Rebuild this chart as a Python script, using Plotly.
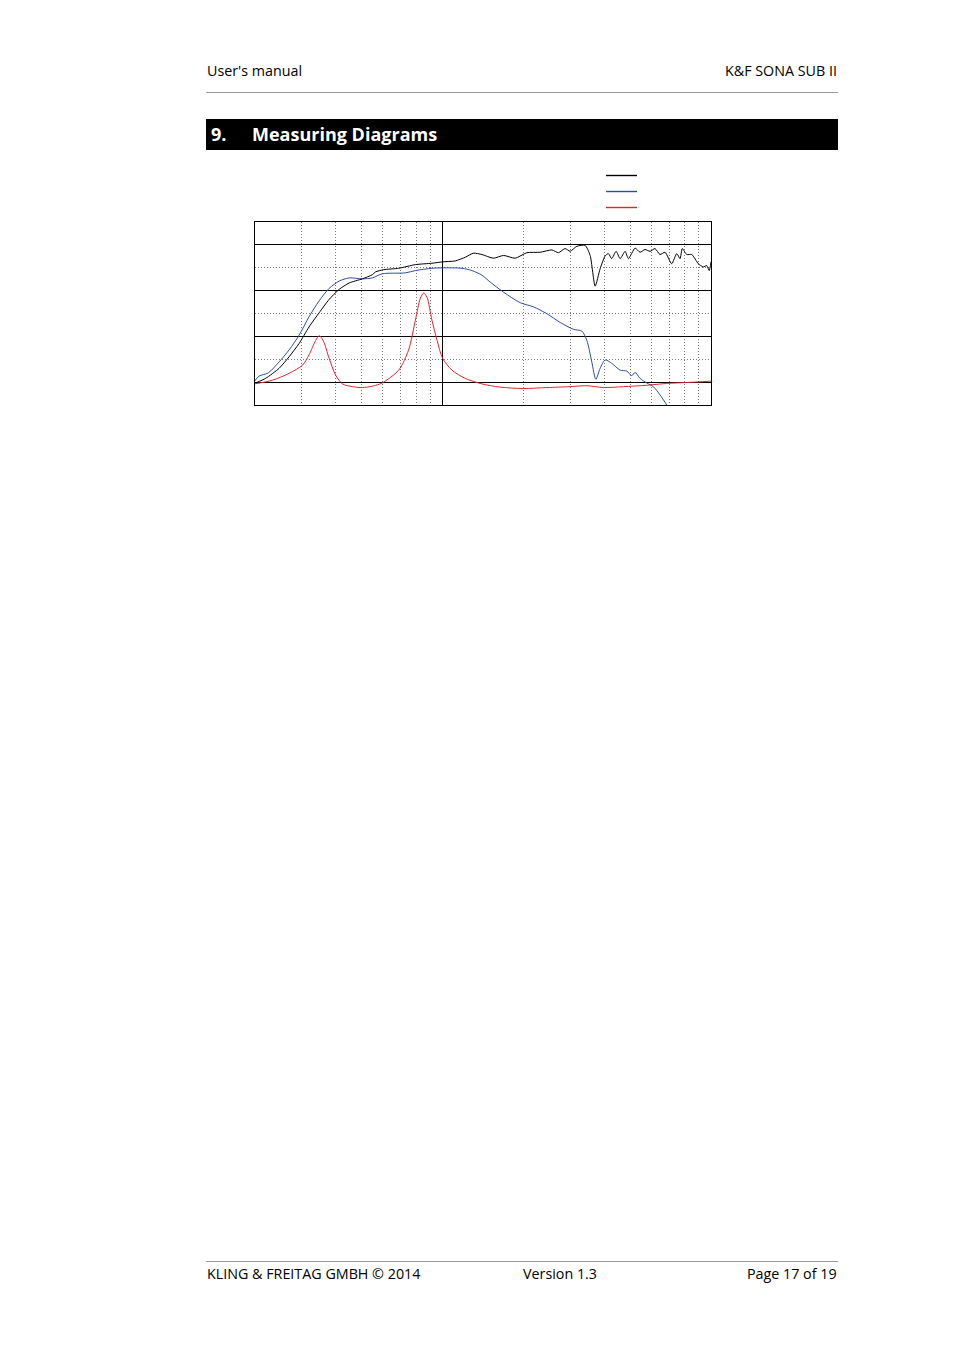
import plotly.graph_objects as go

# measured curves, frequency in Hz and level in dB
freq_black = [20.2, 22.0, 24.7, 26.9, 29.3, 31.9, 34.8, 37.9, 41.3, 45.0, 50.4, 54.9, 56.4, 60.5,
              68.8, 79.4, 91.5, 100, 111.7, 121.7, 130.7, 140.4, 155, 169, 186.8, 206.4, 231.3,
              255.8, 270.6, 286.5, 299, 316.7, 340, 355, 370.5, 386.7, 403.6, 415, 427, 443.5,
              459, 479, 492.7, 521.8, 544.5, 568, 593, 619, 646, 674.5, 714, 745.6, 767, 782,
              812, 848, 897, 936, 964, 985, 1000]
spl_black = [64.8, 65.8, 68.0, 70.5, 73.4, 77.0, 80.1, 83.0, 85.2, 86.6, 87.5, 88.4, 89.0, 89.5,
             89.8, 90.6, 90.9, 91.2, 91.4, 92.2, 93.1, 92.8, 92.0, 92.6, 92.0, 93.2, 93.3,
             93.8, 93.2, 94.1, 93.5, 94.6, 94.8, 92.6, 85.9, 89.7, 92.5, 93.0, 91.9, 93.5,
             91.9, 93.5, 91.9, 94.2, 93.3, 93.9, 93.5, 94.1, 92.8, 93.3, 90.8, 93.0, 91.9, 94.1,
             92.8, 92.8, 90.8, 90.1, 90.4, 89.3, 91.2]

freq_blue = [20, 20.8, 22.5, 24.7, 26.9, 29.3, 31.9, 34.8, 37.9, 41.3, 45.0, 50.4, 54.9, 59.7,
             72.8, 79.4, 91.5, 100, 118.3, 128.9, 140.4, 150.7, 169, 195, 218.4, 245, 274.6,
             307.7, 330.6, 345, 360, 372.8, 386.7, 403.6, 427, 459, 486, 507, 522, 544.5,
             577, 610, 646, 684, 700]
spl_blue = [65.2, 66.3, 67.0, 69.4, 72.0, 75.2, 79.2, 82.7, 85.4, 87.0, 87.7, 87.5, 87.7, 88.6,
            88.8, 89.3, 89.8, 89.9, 89.8, 89.3, 88.3, 86.8, 84.6, 82.3, 81.4, 79.9, 78.0,
            76.5, 76.1, 74.1, 69.4, 65.6, 68.0, 69.8, 69.1, 67.6, 67.4, 66.4, 67.1, 65.8,
            64.8, 64.0, 62.2, 60.0, 58.9]

freq_red = [20, 23.3, 26.9, 30.2, 31.9, 33.8, 34.8, 36.0, 37.9, 40.1, 42.5, 46.3, 50.4, 54.9,
            59.7, 68.8, 74.9, 79.4, 82.8, 85.2, 87.7, 91.5, 95.6, 100.2, 108.6, 121.7, 140.4,
            164, 200, 245, 299, 345, 398, 472, 577, 684, 812, 1000]
spl_red = [64.6, 65.4, 66.9, 68.7, 70.9, 74.1, 75.1, 74.1, 70.2, 66.5, 64.6, 64.0, 63.8, 64.1,
           64.8, 67.6, 72.0, 78.5, 83.2, 84.4, 83.5, 78.5, 74.1, 70.2, 67.6, 65.8, 64.6,
           63.9, 63.6, 63.8, 64.0, 64.2, 63.8, 64.0, 64.3, 64.7, 64.9, 65.2]

minor_x = [30, 40, 50, 60, 70, 80, 90, 200, 300, 400, 500, 600, 700, 800, 900]

# the page body has an 8px margin, so the figure is a bit smaller than the window
OFF = 8
W, H = 954 - OFF, 1350 - OFF


def px(x):
    return (x - OFF) / W


def py(y):
    return 1 - (y - OFF) / H


fig = go.Figure()
fig.add_trace(go.Scatter(x=freq_red, y=spl_red, mode='lines',
                         line=dict(color='#e8232b', width=1, shape='spline', smoothing=0.8)))
fig.add_trace(go.Scatter(x=freq_blue, y=spl_blue, mode='lines',
                         line=dict(color='#2b4ea3', width=1, shape='spline', smoothing=0.8)))
fig.add_trace(go.Scatter(x=freq_black, y=spl_black, mode='lines',
                         line=dict(color='black', width=1, shape='spline', smoothing=0.6)))

shapes = [
    dict(type='line', xref='paper', yref='paper', x0=px(206), x1=px(838), y0=py(92.5), y1=py(92.5),
         line=dict(color='#999999', width=1)),
    dict(type='rect', xref='paper', yref='paper', x0=px(206), x1=px(838), y0=py(150), y1=py(119),
         fillcolor='black', line=dict(width=0)),
    dict(type='line', xref='paper', yref='paper', x0=px(206), x1=px(838), y0=py(1261.5), y1=py(1261.5),
         line=dict(color='#999999', width=1)),
]
for yy, col in [(175.5, 'black'), (191.5, '#2b4ea3'), (207.5, '#e8232b')]:
    shapes.append(dict(type='line', xref='paper', yref='paper', x0=px(606), x1=px(637),
                       y0=py(yy), y1=py(yy), line=dict(color=col, width=1.4)))

font = 'Open Sans, DejaVu Sans, sans-serif'
annotations = [
    dict(text="User's manual", x=px(205), y=py(70), xanchor='left'),
    dict(text="K&F SONA SUB II", x=px(839), y=py(70), xanchor='right'),
    dict(text="KLING & FREITAG GMBH © 2014", x=px(205), y=py(1273), xanchor='left'),
    dict(text="Version 1.3", x=px(521), y=py(1273), xanchor='left'),
    dict(text="Page 17 of 19", x=px(839), y=py(1273), xanchor='right'),
    dict(text="<b>9.</b>", x=px(209), y=py(134), xanchor='left',
         font=dict(color='white', size=18, family=font)),
    dict(text="<b>Measuring Diagrams</b>", x=px(250), y=py(134), xanchor='left',
         font=dict(color='white', size=18, family=font)),
]
for a in annotations:
    a.update(xref='paper', yref='paper', yanchor='middle', showarrow=False)
    a.setdefault('font', dict(color='black', size=14.3, family=font))

fig.update_layout(
    width=W, height=H,
    margin=dict(l=0, r=0, t=0, b=0),
    paper_bgcolor='white', plot_bgcolor='white',
    showlegend=False,
    shapes=shapes,
    annotations=annotations,
    xaxis=dict(type='log', range=[1.30103, 3], domain=[px(254.5), px(711)],
               tickmode='array', tickvals=[100], showticklabels=False, ticks='',
               showgrid=True, gridcolor='black', gridwidth=1,
               minor=dict(tickmode='array', tickvals=minor_x, showgrid=True,
                          gridcolor='#777777', griddash='1px,2px', gridwidth=1, ticks=''),
               showline=True, mirror=True, linecolor='black', linewidth=1, zeroline=False),
    yaxis=dict(range=[60, 100], domain=[py(405), py(221.5)],
               tickmode='array', tickvals=[65, 75, 85, 95], showticklabels=False, ticks='',
               showgrid=True, gridcolor='black', gridwidth=1,
               minor=dict(tickmode='array', tickvals=[70, 80, 90], showgrid=True,
                          gridcolor='#777777', griddash='1px,2px', gridwidth=1, ticks=''),
               showline=True, mirror=True, linecolor='black', linewidth=1, zeroline=False),
)

fig.write_html("out.html")
